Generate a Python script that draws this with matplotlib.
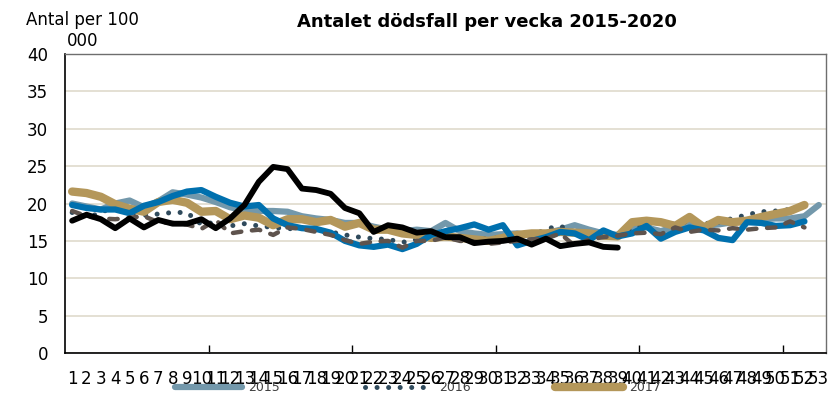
import numpy as np
import matplotlib
matplotlib.use('Agg')
import matplotlib.pyplot as plt

# ── Data (deaths per 100 000, per week) ─────────────────────
weeks = list(range(1, 54))

y2015 = [20.0, 19.6, 19.2, 20.0, 20.4, 19.5, 20.3, 21.5, 21.2, 20.8,
         20.2, 19.5, 19.1, 19.0, 19.0, 18.9, 18.3, 18.0, 17.8, 17.4,
         17.4, 16.9, 16.5, 16.3, 16.5, 16.3, 17.4, 16.3, 16.0, 15.8,
         15.9, 16.0, 15.7, 16.0, 16.5, 17.1, 16.5, 16.0, 15.8, 16.7,
         16.8, 16.3, 16.9, 17.3, 17.0, 17.2, 17.5, 17.8, 17.9, 18.0,
         18.0, 18.3, 19.8]
y2016 = [18.8, 18.3, 18.6, 20.1, 19.0, 18.4, 18.6, 18.8, 18.8, 17.2,
         17.5, 17.0, 17.3, 17.0, 16.8, 16.6, 16.8, 16.3, 16.2, 15.8,
         15.5, 15.3, 15.2, 14.8, 15.2, 15.4, 15.3, 15.4, 15.2, 15.3,
         15.5, 15.2, 15.6, 16.6, 17.0, 16.0, 15.8, 15.6, 15.9, 16.6,
         17.3, 17.6, 17.2, 17.7, 17.3, 17.5, 18.0, 18.5, 18.9, 19.0,
         19.2, 19.7]
y2017 = [21.6, 21.4, 20.9, 19.9, 19.3, 18.9, 20.2, 20.5, 20.1, 18.9,
         19.0, 17.9, 18.4, 18.1, 17.1, 17.9, 17.9, 17.5, 17.8, 16.9,
         17.4, 16.5, 16.5, 16.0, 15.8, 15.4, 15.6, 15.4, 15.2, 15.0,
         15.4, 15.8, 16.0, 16.0, 16.2, 16.1, 16.0, 15.7, 15.6, 17.5,
         17.7, 17.5, 17.0, 18.2, 16.8, 17.8, 17.5, 17.7, 18.2, 18.6,
         19.0, 19.8]
y2018 = [19.8, 19.4, 19.2, 19.2, 18.7, 19.7, 20.2, 21.0, 21.6, 21.8,
         20.9, 20.1, 19.6, 19.8, 18.0, 17.1, 16.7, 16.6, 16.1, 15.0,
         14.4, 14.2, 14.5, 13.9, 14.6, 15.8, 16.3, 16.7, 17.2, 16.5,
         17.1, 14.4, 15.0, 15.5, 16.2, 16.0, 15.1, 16.4, 15.6, 16.0,
         17.0, 15.3, 16.2, 16.8, 16.4, 15.4, 15.1, 17.5, 17.4, 17.0,
         17.1, 17.6]
y2019 = [19.0, 18.3, 18.0, 17.9, 18.1, 18.3, 17.5, 17.4, 17.2, 16.6,
         17.8, 16.0, 16.3, 16.5, 15.8, 16.8, 16.6, 16.2, 15.8, 15.1,
         14.6, 14.9, 15.0, 14.1, 15.0, 15.0, 15.5, 15.0, 14.9, 14.6,
         14.8, 15.0, 15.2, 15.3, 16.0, 14.3, 15.2, 15.5, 15.7, 16.0,
         16.1, 15.9, 16.8, 16.2, 16.5, 16.4, 16.7, 16.5, 16.7, 16.8,
         17.6, 16.8]
y2020 = [17.7, 18.5, 17.9, 16.7, 18.0, 16.8, 17.8, 17.3, 17.3, 17.9,
         16.7, 18.0, 19.8, 22.9, 24.9, 24.6, 22.0, 21.8, 21.3, 19.4,
         18.7, 16.2, 17.1, 16.8, 16.1, 16.3, 15.5, 15.5, 14.7, 14.9,
         15.0, 15.3, 14.5, 15.3, 14.3, 14.6, 14.8, 14.2, 14.1]

series_names = ['2015', '2016', '2017', '2018', '2019', '2020']
series_vals = [y2015, y2016, y2017, y2018, y2019, y2020]

# ── Styles ──────────────────────────────────────────────────
styles = {
    '2015': dict(color='#7398AB', lw=4.5, solid_capstyle='round'),
    '2016': dict(color='#2F4A5C', lw=3.6, ls=(0, (0.01, 2.3)),
                 dash_capstyle='round'),
    '2017': dict(color='#B4975A', lw=6.0, solid_capstyle='round'),
    '2018': dict(color='#0070AE', lw=4.5, solid_capstyle='round'),
    '2019': dict(color='#5E534D', lw=3.2, ls=(0, (1.9, 2.4)),
                 dash_capstyle='round'),
    '2020': dict(color='#000000', lw=4.2, solid_capstyle='round'),
}

fig = plt.figure(figsize=(8.35, 4.04), dpi=100)
ax = fig.add_axes([0.0778, 0.1262, 0.9114, 0.7401])

lines = []
for name, vals in zip(series_names, series_vals):
    ln, = ax.plot(weeks[:len(vals)], vals, label=name,
                  solid_joinstyle='round', **styles[name])
    lines.append(ln)

ax.set_xlim(0.5, 53.5)
ax.set_ylim(0, 40)
ax.set_yticks(range(0, 41, 5))
ax.yaxis.grid(True, color='#E2DDD0', lw=1.3)
ax.set_axisbelow(True)

ax.set_xticks(weeks)
ax.set_xticklabels([str(w) for w in weeks])
ax.set_xticks([10.5, 20.5, 30.5, 40.5, 50.5], minor=True)
ax.tick_params(axis='x', which='major', length=0, pad=12, labelsize=12)
ax.tick_params(axis='x', which='minor', direction='in', length=6, width=1)
ax.tick_params(axis='y', length=0, pad=12, labelsize=12)

for s in ['left', 'bottom']:
    ax.spines[s].set_color('black')
    ax.spines[s].set_linewidth(1.2)
for s in ['top', 'right']:
    ax.spines[s].set_color('#6E6E6E')
    ax.spines[s].set_linewidth(1.0)

fig.text(0.583, 0.945, 'Antalet dödsfall per vecka 2015-2020',
         ha='center', va='center', fontsize=13, fontweight='bold')
fig.text(0.099, 0.925, 'Antal per 100\n000', ha='center', va='center',
         fontsize=12, multialignment='center', linespacing=1.2)

# only the first legend row is visible in the source chart
leg = fig.legend(lines[:3], series_names[:3], loc='upper left',
                 bbox_to_anchor=(0.209, 0.057), ncol=3,
                 frameon=False, fontsize=9, handlelength=5.4,
                 handletextpad=0.5, columnspacing=6.8, borderpad=0,
                 borderaxespad=0)
for t in leg.get_texts():
    t.set_color('#404040')

fig.savefig('out.png', dpi=100)
